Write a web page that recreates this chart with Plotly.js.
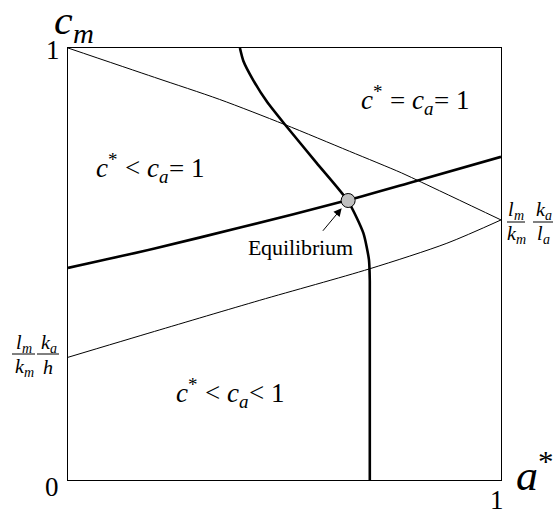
<!DOCTYPE html>
<html><head><meta charset="utf-8">
<script src="https://cdn.plot.ly/plotly-3.0.1.min.js"></script>
<style>
@font-face { font-family: 'SerifX'; font-style: normal; font-weight: 400; src: local('Liberation Serif'), local('LiberationSerif'), local('Liberation Serif Regular'), local('Times New Roman'); }
@font-face { font-family: 'SerifX'; font-style: italic; font-weight: 400; src: local('Liberation Serif Italic'), local('LiberationSerif-Italic'), local('Times New Roman Italic'); }
html,body{margin:0;padding:0;background:#fff}#chart{width:555px;height:514px}
</style>
</head><body><div id="chart"></div>
<script>
// Curves (a* on x, c_m on y, both 0..1)
const nullX  = [0.397, 0.405, 0.427, 0.46, 0.501, 0.574, 0.647, 0.682, 0.695, 0.697, 0.697];
const nullY  = [1.0,   0.97,  0.927, 0.875, 0.823, 0.734, 0.645, 0.572, 0.51, 0.46, 0.0];
const thickX = [0, 0.2, 0.4, 0.647, 0.8, 1];
const thickY = [0.491, 0.536, 0.585, 0.648, 0.691, 0.748];
const upperX = [0, 0.2, 0.35, 0.5, 0.65, 0.77, 0.817, 1];
const upperY = [1, 0.932, 0.881, 0.823, 0.761, 0.711, 0.689, 0.602];
const lowerX = [0, 0.2, 0.443, 0.697, 0.875, 1];
const lowerY = [0.284, 0.344, 0.416, 0.489, 0.548, 0.602];
const eqX = [0.647];
const eqY = [0.647];
const tickLabels = ["0", "1", "1"];
const regionLabels = [
  "<i>c</i><sup>*</sup> = <i>c</i><sub><i>a</i></sub>= 1",
  "<i>c</i><sup>*</sup> < <i>c</i><sub><i>a</i></sub>= 1",
  "<i>c</i><sup>*</sup> < <i>c</i><sub><i>a</i></sub>< 1"
];

const L = 68, T = 48, W = 433, H = 432;
const px = x => (x - L) / W;
const py = y => (T + H - y) / H;
const F = 'SerifX';

const traces = [
  {x: upperX, y: upperY, mode: 'lines', line: {color: '#000', width: 1, shape: 'spline', smoothing: 0.8}, hoverinfo: 'skip'},
  {x: lowerX, y: lowerY, mode: 'lines', line: {color: '#000', width: 1, shape: 'spline', smoothing: 0.8}, hoverinfo: 'skip'},
  {x: thickX, y: thickY, mode: 'lines', line: {color: '#000', width: 2.6, shape: 'spline', smoothing: 0.8}, hoverinfo: 'skip'},
  {x: nullX, y: nullY, mode: 'lines', line: {color: '#000', width: 2.6, shape: 'spline', smoothing: 0.6}, hoverinfo: 'skip'},
  {x: eqX, y: eqY, mode: 'markers', marker: {size: 14, color: '#c0c0c0', line: {color: '#000', width: 1}}, hoverinfo: 'skip'}
];

function ann(x, y, text, size) {
  return {xref: 'paper', yref: 'paper', x: px(x), y: py(y), text: text, showarrow: false,
    xanchor: 'center', yanchor: 'middle', font: {family: F, size: size, color: '#000'}};
}

const annotations = [
  ann(52, 487, tickLabels[0], 27),
  ann(52.5, 50, tickLabels[1], 27),
  ann(497, 500, tickLabels[2], 27),
  ann(74, 23, "<i>c</i><sub><i>m</i></sub>", 42),
  ann(535, 472, "<i>a</i><sup>*</sup>", 44),
  ann(415, 100, regionLabels[0], 27),
  ann(150, 168, regionLabels[1], 27),
  ann(230, 393, regionLabels[2], 27),
  ann(300, 248, "Equilibrium", 22),
  {xref: 'x', yref: 'y', x: eqX[0] - 0.015, y: eqY[0] - 0.018, ax: -20, ay: 24, text: '', showarrow: true,
   arrowhead: 2, arrowsize: 1.6, arrowwidth: 1, arrowcolor: '#000'},
  // left fraction
  ann(24, 343, "<i>l</i><sub><i>m</i></sub>", 20),
  ann(49, 343, "<i>k</i><sub><i>a</i></sub>", 20),
  ann(24, 367, "<i>k</i><sub><i>m</i></sub>", 20),
  ann(48, 367, "<i>h</i>", 20),
  // right fraction
  ann(516, 210, "<i>l</i><sub><i>m</i></sub>", 20),
  ann(544, 210, "<i>k</i><sub><i>a</i></sub>", 20),
  ann(516, 234, "<i>k</i><sub><i>m</i></sub>", 20),
  ann(543, 234, "<i>l</i><sub><i>a</i></sub>", 20)
];

const bar = (x0, x1, y) => ({type: 'line', xref: 'paper', yref: 'paper', x0: px(x0), x1: px(x1), y0: py(y), y1: py(y), line: {color: '#000', width: 1}});
const shapes = [bar(12, 35, 354), bar(37, 59, 354), bar(507, 525, 222), bar(533, 553, 222)];

const ax = {range: [0, 1], showgrid: false, zeroline: false, showticklabels: false, ticks: '', showline: true, mirror: true, linecolor: '#000', linewidth: 1, fixedrange: true};

const layout = {
  width: 555, height: 514,
  margin: {l: L, r: 555 - L - W, t: T, b: 514 - T - H},
  showlegend: false,
  xaxis: Object.assign({}, ax),
  yaxis: Object.assign({}, ax),
  annotations: annotations,
  shapes: shapes
};

function draw() {
  Plotly.newPlot('chart', traces, layout, {displayModeBar: false, staticPlot: true});
}
if (document.fonts && document.fonts.load) {
  Promise.all([
    document.fonts.load('20px SerifX'),
    document.fonts.load('italic 20px SerifX')
  ]).then(draw, draw);
} else {
  draw();
}
</script></body></html>
